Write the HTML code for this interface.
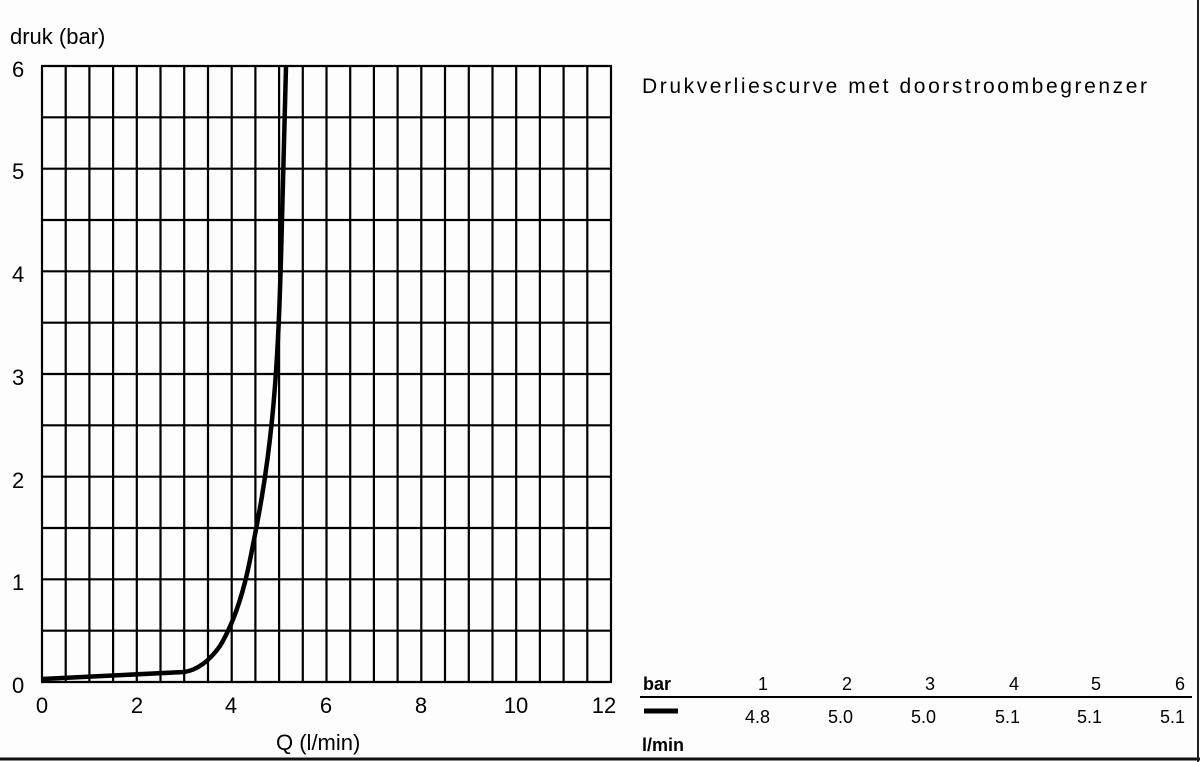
<!DOCTYPE html>
<html><head><style>
body{margin:0;background:#fff;}
svg{display:block;font-family:"Liberation Sans",Arial,sans-serif;}
</style></head><body>
<svg width="1200" height="762" viewBox="0 0 1200 762">
<rect width="1200" height="762" fill="#fdfdfd"/>
<path stroke="#000" stroke-width="2.2" fill="none" d="
M42,66V682 M65.7,66V682 M89.4,66V682 M113.1,66V682 M136.8,66V682 M160.5,66V682 M184.2,66V682 M208,66V682 M231.7,66V682 M255.4,66V682 M279.1,66V682 M302.8,66V682 M326.5,66V682 M350.2,66V682 M373.9,66V682 M397.6,66V682 M421.3,66V682 M445,66V682 M468.8,66V682 M492.5,66V682 M516.2,66V682 M539.9,66V682 M563.6,66V682 M587.3,66V682 M611,66V682
M41,66H612 M41,117.3H612 M41,168.7H612 M41,220H612 M41,271.3H612 M41,322.7H612 M41,374H612 M41,425.3H612 M41,476.7H612 M41,528H612 M41,579.3H612 M41,630.7H612 M41,682H612"/>
<path d="M42,679 L184,672 C198,670 210,660 220,646 C232,626 242,600 250,560 C258,520 266,480 272,420 C278,360 280,300 282,220 L286,66" fill="none" stroke="#000" stroke-width="4.5"/>
<g font-size="22" fill="#000">
<text x="10" y="44">druk (bar)</text>
<text x="12" y="77">6</text><text x="12" y="179">5</text><text x="12" y="282">4</text>
<text x="12" y="385">3</text><text x="12" y="488">2</text><text x="12" y="590">1</text><text x="12" y="693">0</text>
<text x="42" y="713" text-anchor="middle">0</text><text x="137" y="713" text-anchor="middle">2</text>
<text x="231" y="713" text-anchor="middle">4</text><text x="326" y="713" text-anchor="middle">6</text>
<text x="421" y="713" text-anchor="middle">8</text><text x="516" y="713" text-anchor="middle">10</text>
<text x="604" y="713" text-anchor="middle">12</text>
<text x="276" y="750">Q  (l/min)</text>
<text x="642" y="93" font-size="21" textLength="505" lengthAdjust="spacing">Drukverliescurve met doorstroombegrenzer</text>
</g>
<line x1="640" y1="697" x2="1192" y2="697" stroke="#000" stroke-width="2"/>
<line x1="644" y1="711" x2="678" y2="711" stroke="#000" stroke-width="5"/>
<g font-size="18" fill="#000" text-anchor="end">
<text x="643" y="690" text-anchor="start" font-weight="bold">bar</text>
<text x="768" y="690">1</text><text x="852" y="690">2</text><text x="935" y="690">3</text>
<text x="1019" y="690">4</text><text x="1101" y="690">5</text><text x="1185" y="690">6</text>
<text x="770" y="723">4.8</text><text x="853" y="723">5.0</text><text x="936" y="723">5.0</text>
<text x="1020" y="723">5.1</text><text x="1102" y="723">5.1</text><text x="1185" y="723">5.1</text>
<text x="642" y="751" text-anchor="start" font-weight="bold">l/min</text>
</g>
<line x1="0" y1="759" x2="1200" y2="759" stroke="#111" stroke-width="3"/>
<line x1="1198" y1="0" x2="1198" y2="762" stroke="#222" stroke-width="2"/>
</svg>
</body></html>
